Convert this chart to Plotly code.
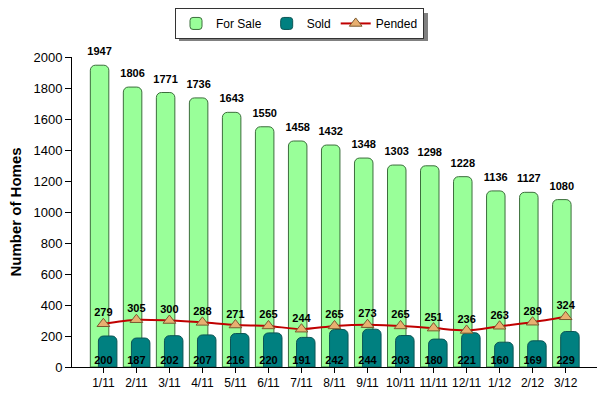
import plotly.graph_objects as go

months = ["1/11", "2/11", "3/11", "4/11", "5/11", "6/11", "7/11", "8/11",
          "9/11", "10/11", "11/11", "12/11", "1/12", "2/12", "3/12"]
for_sale = [1947, 1806, 1771, 1736, 1643, 1550, 1458, 1432, 1348, 1303, 1298, 1228, 1136, 1127, 1080]
sold = [200, 187, 202, 207, 216, 220, 191, 242, 244, 203, 180, 221, 160, 169, 229]
pended = [279, 305, 300, 288, 271, 265, 244, 265, 273, 265, 251, 236, 263, 289, 324]

xs = list(range(len(months)))
BW = 0.56
FS_SHIFT = -0.115
SOLD_SHIFT = 0.13

lbl_font = dict(family="Liberation Sans", size=11, color="black", weight="bold")

fig = go.Figure()
fig.add_trace(go.Bar(
    x=xs, y=for_sale, name="For Sale", width=BW, offset=FS_SHIFT - BW / 2,
    marker=dict(color="#99FF99", line=dict(color="#3C6E3C", width=1)),
))
fig.add_trace(go.Bar(
    x=xs, y=sold, name="Sold", width=BW, offset=SOLD_SHIFT - BW / 2,
    marker=dict(color="#008080", line=dict(color="#0B5555", width=1)),
))
fig.add_trace(go.Scatter(
    x=xs, y=pended, name="Pended", mode="lines+markers",
    line=dict(color="#C00000", width=2, shape="spline", smoothing=0.8),
    marker=dict(symbol="triangle-up", size=11, color="#E8B070",
                line=dict(color="#7A5A30", width=1)),
))
# labels
fig.add_trace(go.Scatter(
    x=[x + FS_SHIFT for x in xs], y=for_sale, mode="markers+text",
    text=[str(v) for v in for_sale], textposition="top center",
    marker=dict(size=10, opacity=0),
    textfont=lbl_font, showlegend=False, hoverinfo="skip", cliponaxis=False,
))
fig.add_trace(go.Scatter(
    x=xs, y=[0] * len(xs), mode="text",
    text=[str(v) for v in sold], textposition="top center",
    textfont=lbl_font, showlegend=False, hoverinfo="skip", cliponaxis=False,
))
fig.add_trace(go.Scatter(
    x=xs, y=pended, mode="markers+text",
    text=[str(v) for v in pended], textposition="top center",
    marker=dict(size=6, opacity=0),
    textfont=lbl_font, showlegend=False, hoverinfo="skip", cliponaxis=False,
))

# legend drop shadow (pixel box converted to paper coords)
L, T, PW, PH = 72, 57, 525, 310
def px2paper_x(px):
    return (px - L) / PW
def px2paper_y(py):
    return (T + PH - py) / PH

fig.add_shape(type="rect", xref="paper", yref="paper",
              x0=px2paper_x(179), x1=px2paper_x(428),
              y0=px2paper_y(41), y1=px2paper_y(13),
              fillcolor="#808080", line=dict(width=0), layer="below")

fig.update_layout(
    width=599, height=397,
    margin=dict(l=L, r=599 - L - PW, t=T, b=397 - T - PH),
    paper_bgcolor="white", plot_bgcolor="white",
    barmode="overlay", barcornerradius=5,
    font=dict(family="Liberation Sans", size=12, color="black"),
    legend=dict(
        orientation="h", xref="container", yref="container",
        x=0.5, xanchor="center", y=0.98, yanchor="top",
        bordercolor="#333333", borderwidth=1, bgcolor="white",
        font=dict(size=12), itemwidth=30,
    ),
    xaxis=dict(
        range=[-0.95, 14.95], tickvals=xs, ticktext=months,
        showline=True, linecolor="black", linewidth=1,
        ticks="outside", ticklen=5, tickcolor="black",
        showgrid=False, zeroline=False, tickfont=dict(size=12),
    ),
    yaxis=dict(
        range=[0, 2000], dtick=200,
        showline=True, linecolor="black", linewidth=1,
        ticks="outside", ticklen=6, tickcolor="black",
        showgrid=False, zeroline=False, tickfont=dict(size=13),
        title=dict(text="Number of Homes", standoff=8,
                   font=dict(size=15, weight="bold")),
    ),
)

fig.write_html("out.html", config={"displayModeBar": False},
               post_script="document.body.style.margin='0';")
